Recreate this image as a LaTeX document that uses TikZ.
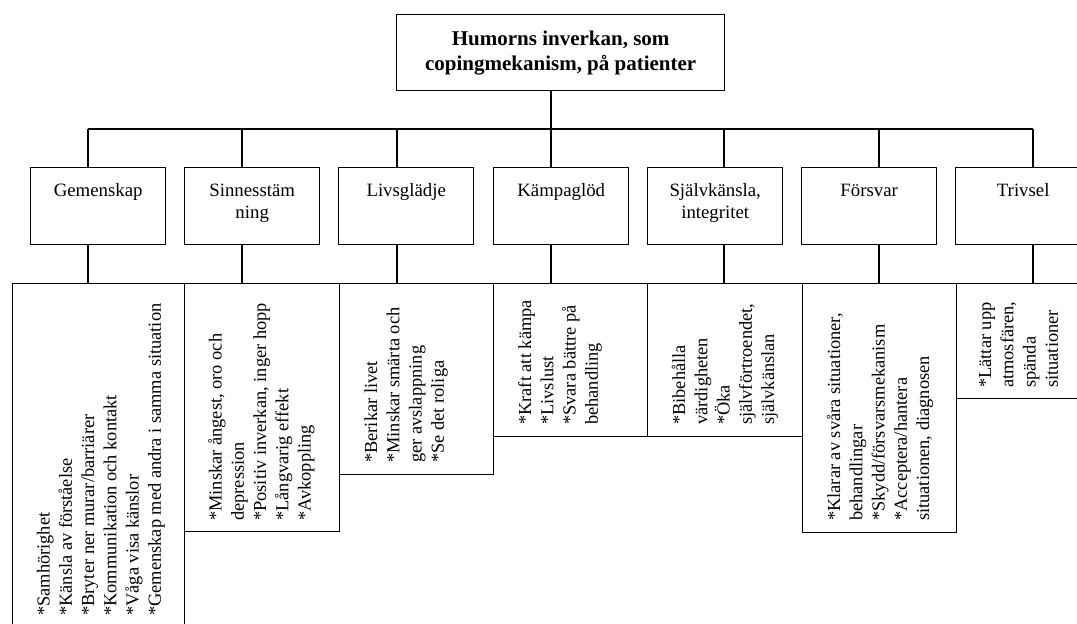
\documentclass[tikz,border=0pt]{standalone}
\usepackage{fontspec}
\setmainfont{Liberation Serif}
\newcommand\bodyfs{\fontsize{18.4}{22.3}\selectfont}
\newcommand\lvfs{\fontsize{18.8}{22.3}\selectfont}
\newcommand\titlefs{\fontsize{21}{25}\selectfont\bfseries}
\newcommand\nl{\\{}}
\tikzset{
  boxline/.style={draw, line width=1.4pt, inner sep=0pt, anchor=north west},
  lvtwo/.style={boxline},
  detbox/.style={boxline},
  dettext/.style={rotate=90, anchor=base west, inner sep=0pt},
  conn/.style={line width=1.1pt},
}
\newcommand\lvtext[1]{\parbox[t][77pt][t]{135pt}{\lvfs\centering\rule{0pt}{28.5pt}#1}}
\newcommand\dettxt[1]{\parbox[t]{330pt}{\bodyfs\raggedright #1}}
\begin{document}
\begin{tikzpicture}[x=1pt,y=-1pt]
\useasboundingbox (0,0) rectangle (1077,624);
\clip (0,0) rectangle (1077,624);
\fill[white] (0,0) rectangle (1077,624);

% root
\node[boxline] (root) at (396,14)
  {\parbox[t][76pt][t]{328pt}{\titlefs\centering\rule{0pt}{30.3pt}Humorns inverkan, som\\copingmekanism, på patienter}};

% level two
\node[lvtwo] (g1) at (30,167)  {\lvtext{Gemenskap}};
\node[lvtwo] (g2) at (184,167) {\lvtext{Sinnesstäm\\ning}};
\node[lvtwo] (g3) at (338,167) {\lvtext{Livsglädje}};
\node[lvtwo] (g4) at (493,167) {\lvtext{Kämpaglöd}};
\node[lvtwo] (g5) at (647,167) {\lvtext{Självkänsla,\\integritet}};
\node[lvtwo] (g6) at (801,167) {\lvtext{Försvar}};
\node[lvtwo] (g7) at (955,167) {\lvtext{Trivsel}};

% level three boxes
\node[detbox, minimum width=172pt, minimum height=360pt] (d1) at (12,283)  {};
\node[detbox, minimum width=155pt, minimum height=248pt] (d2) at (184,283) {};
\node[detbox, minimum width=154pt, minimum height=191pt] (d3) at (339,283) {};
\node[detbox, minimum width=154pt, minimum height=153pt] (d4) at (493,283) {};
\node[detbox, minimum width=155pt, minimum height=153pt] (d5) at (647,283) {};
\node[detbox, minimum width=154pt, minimum height=249pt] (d6) at (802,283) {};
\node[detbox, minimum width=154pt, minimum height=115pt] (d7) at (956,283) {};

% level three texts
\node[dettext] (t1) at (49.5,616) {\dettxt{*Samhörighet\nl *Känsla av förståelse\nl *Bryter ner murar/barriärer\nl *Kommunikation och kontakt\nl *Våga visa känslor\nl *Gemenskap med andra i samma situation}};
\node[dettext] (t2) at (221.5,521) {\dettxt{*Minskar ångest, oro och\nl depression\nl *Positiv inverkan, inger hopp\nl *Långvarig effekt\nl *Avkoppling}};
\node[dettext] (t3) at (377,463) {\dettxt{*Berikar livet\nl *Minskar smärta och\nl ger avslappning\nl *Se det roliga}};
\node[dettext] (t4) at (531,425) {\dettxt{*Kraft att kämpa\nl *Livslust\nl *Svara bättre på\nl behandling}};
\node[dettext] (t5) at (685,425) {\dettxt{*Bibehålla\nl värdigheten\nl *Öka\nl självförtroendet,\nl självkänslan}};
\node[dettext] (t6) at (840,521) {\dettxt{*Klarar av svåra situationer,\nl behandlingar\nl *Skydd/försvarsmekanism\nl *Acceptera/hantera\nl situationen, diagnosen}};
\node[dettext] (t7) at (991,388) {\dettxt{*Lättar upp\nl atmosfären,\nl spända\nl situationer}};

% connectors
\coordinate (b1) at (88,129);
\coordinate (b2) at (242,129);
\coordinate (b3) at (397,129);
\coordinate (b4) at (551,129);
\coordinate (b5) at (724,129);
\coordinate (b6) at (879,129);
\coordinate (b7) at (1033,129);
\draw[conn] (root.south -| b4) -- (b4);
\draw[conn] (b1) -- (b7);
\foreach \i in {1,...,7}{
  \draw[conn] (b\i) -- (b\i |- g\i.north);
  \draw[conn] (g\i.south -| b\i) -- (d\i.north -| b\i);
}
\end{tikzpicture}
\end{document}
